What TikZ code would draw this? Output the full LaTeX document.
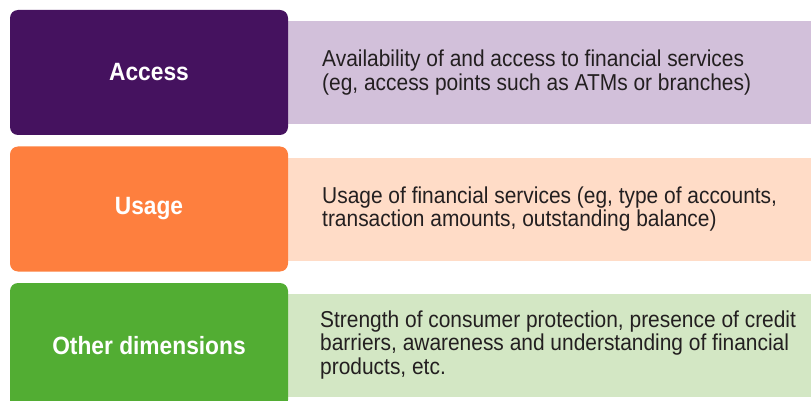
\documentclass[tikz,border=0pt]{standalone}
\usepackage{fontspec}
\setmainfont{Liberation Sans}[FakeStretch=0.91]

\definecolor{accessdark}{HTML}{45125F}
\definecolor{accesslight}{HTML}{D2C0DA}
\definecolor{usagedark}{HTML}{FE7F3E}
\definecolor{usagelight}{HTML}{FFDCC7}
\definecolor{otherdark}{HTML}{52AD33}
\definecolor{otherlight}{HTML}{D3E7C4}
\definecolor{bodytext}{HTML}{231F20}

\begin{document}
\begin{tikzpicture}[x=1pt,y=-1pt]
	\tikzstyle{every node}+=[inner sep=0pt]
	\tikzstyle{dimbox}=[rounded corners=8pt, minimum width=278pt, minimum height=125pt, text=white, font=\fontsize{25}{28}\selectfont\bfseries]
	\tikzstyle{infobox}=[minimum width=530pt, minimum height=103pt]
	\tikzstyle{infotext}=[anchor=west, align=left, text=bodytext, font=\fontsize{23}{23.4}\selectfont]
	\useasboundingbox (0,0) rectangle (811,401);
	\clip (0,0) rectangle (811,401);
	% access
	\node [infobox, fill=accesslight] (accessinfo) at (546,72.5) {};
	\node [dimbox, fill=accessdark] (access) at (149,72.5) {Access};
	\node [infotext] (accesstext) at (322,72.5) {Availability of and access to financial services\\(eg, access points such as ATMs or branches)};
	% usage
	\node [infobox, fill=usagelight] (usageinfo) at (546,209) {};
	\node [dimbox, fill=usagedark] (usage) at (149,209) {Usage};
	\node [infotext] (usagetext) at (322,209) {Usage of financial services (eg, type of accounts,\\transaction amounts, outstanding balance)};
	% other dimensions
	\node [infobox, fill=otherlight] (otherinfo) at (546,345) {};
	\node [dimbox, fill=otherdark] (other) at (149,345.5) {Other dimensions};
	\node [infotext] (othertext) at (320,345) {Strength of consumer protection, presence of credit\\barriers, awareness and understanding of financial\\products, etc.};
\end{tikzpicture}
\end{document}
